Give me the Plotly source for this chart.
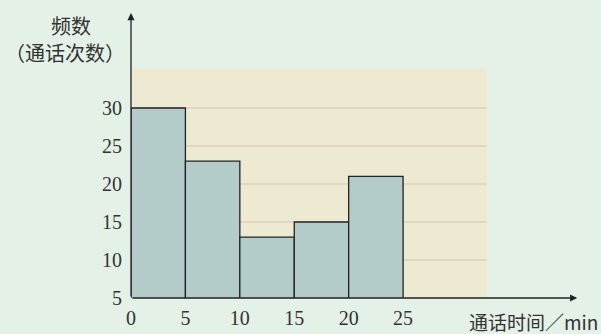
import plotly.graph_objects as go

bin_left = [0, 5, 10, 15, 20]
bin_width = 5
counts = [30, 23, 13, 15, 21]
y_ticks = [5, 10, 15, 20, 25, 30]
x_ticks = [0, 5, 10, 15, 20, 25]
y_title_1 = "频数"
y_title_2 = "（通话次数）"
x_title = "通话时间／min"

bg = "#E4F1E7"
panel = "#EEEAD1"
bar_col = "#B4CCC9"
grid_col = "#DDBFB3"
ink = "#222222"
serif = "Liberation Serif, Times New Roman, serif"
cjk = "Noto Sans CJK SC, sans-serif"

centers = [l + bin_width / 2 for l in bin_left]

fig = go.Figure()
fig.add_trace(go.Bar(
    x=centers, y=counts, width=[bin_width] * len(counts),
    marker=dict(color=bar_col, line=dict(color=ink, width=1.3)),
    hoverinfo="skip",
))

panel_right = 32.7
panel_top = 35.2
shapes = [dict(type="rect", xref="x", yref="y", x0=0, x1=panel_right, y0=5, y1=panel_top,
               fillcolor=panel, line=dict(width=0), layer="below")]
for v in y_ticks[1:]:
    shapes.append(dict(type="line", xref="x", yref="y", x0=0, x1=panel_right, y0=v, y1=v,
                       line=dict(color=grid_col, width=1), layer="below"))
fig.update_layout(shapes=shapes)

x_max = 43.0
y_min, y_max = 5, 43.55

annotations = [
    dict(x=41.0, y=5, xref="x", yref="y", ax=0, ay=5, axref="x", ayref="y",
         showarrow=True, arrowhead=2, arrowsize=1.1, arrowwidth=1.3, arrowcolor=ink, text=""),
    dict(x=0, y=42.5, xref="x", yref="y", ax=0, ay=5, axref="x", ayref="y",
         showarrow=True, arrowhead=2, arrowsize=1.1, arrowwidth=1.3, arrowcolor=ink, text=""),
    dict(x=(71 - 131) / 468, y=(298 - 26) / 293, xref="paper", yref="paper",
         text=y_title_1, showarrow=False, font=dict(family=cjk, size=20, color="#333"),
         xanchor="center", yanchor="middle"),
    dict(x=(65 - 131) / 468, y=(298 - 52) / 293, xref="paper", yref="paper",
         text=y_title_2, showarrow=False, font=dict(family=cjk, size=20, color="#333"),
         xanchor="center", yanchor="middle"),
    dict(x=(600 - 131) / 468, y=(298 - 321) / 293, xref="paper", yref="paper",
         text=x_title, showarrow=False, font=dict(family=cjk + ", " + serif, size=19, color="#333"),
         xanchor="right", yanchor="middle"),
]

fig.update_layout(
    width=601, height=334,
    margin=dict(l=131, r=2, t=5, b=36, pad=0),
    paper_bgcolor=bg, plot_bgcolor="rgba(0,0,0,0)",
    showlegend=False, bargap=0,
    annotations=annotations,
    xaxis=dict(range=[0, x_max], tickvals=x_ticks, ticktext=[str(v) for v in x_ticks],
               showgrid=False, zeroline=False, showline=False, ticks="",
               tickfont=dict(family=serif, size=20, color="#333"), ticklabelstandoff=6),
    yaxis=dict(range=[y_min, y_max], tickvals=y_ticks, ticktext=[str(v) for v in y_ticks],
               showgrid=False, zeroline=False, showline=False, ticks="",
               tickfont=dict(family=serif, size=20, color="#333"), ticklabelstandoff=8),
)

fig.write_html("out.html", config={"displayModeBar": False, "staticPlot": True},
               post_script="document.body.style.margin='0';document.body.style.overflow='hidden';document.body.style.background='" + bg + "';")
